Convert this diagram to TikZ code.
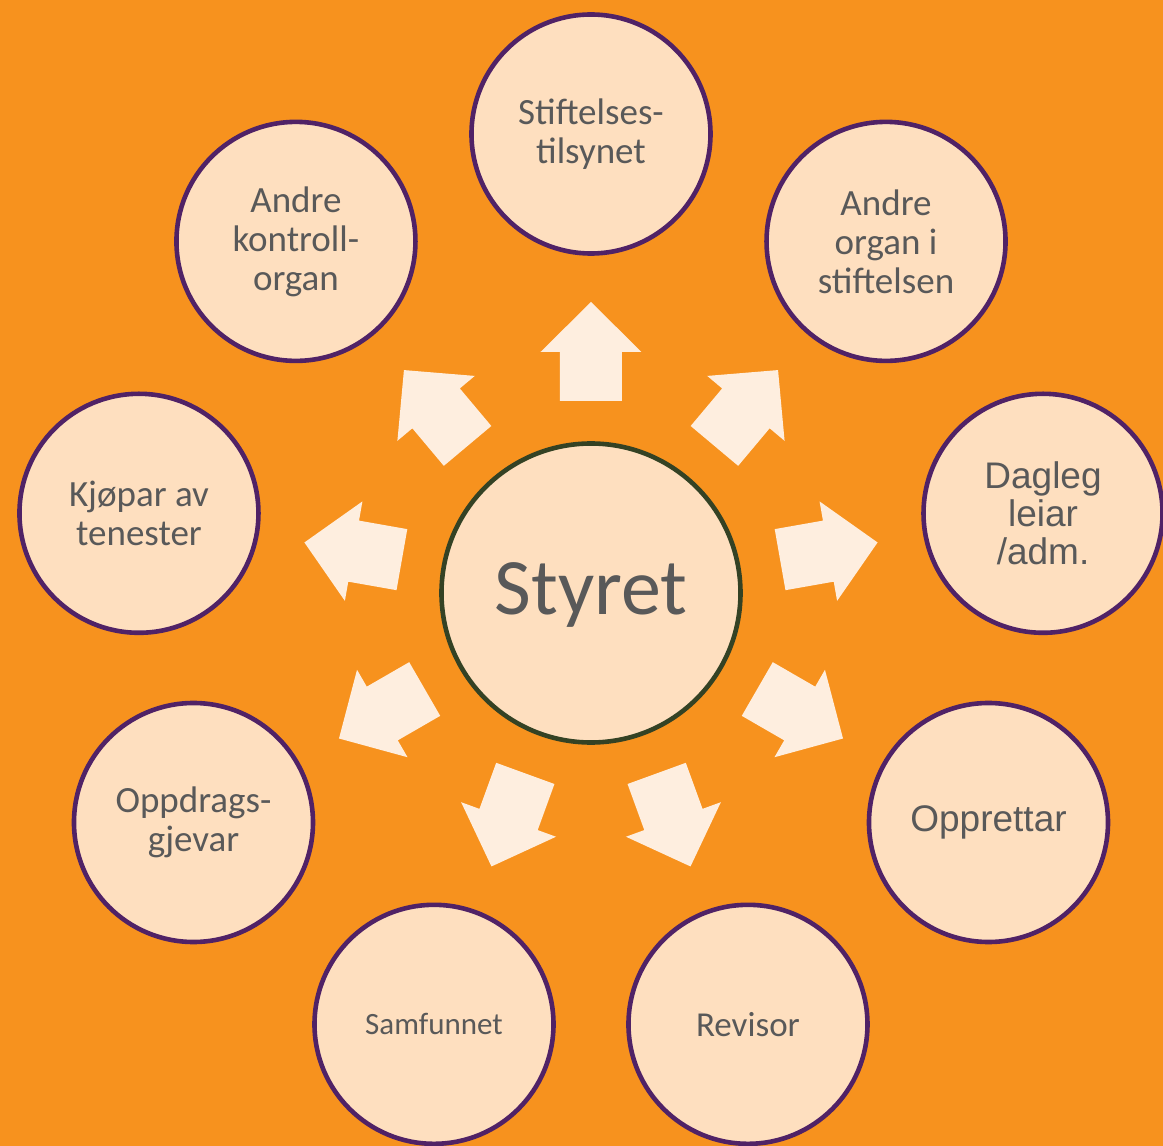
\documentclass[tikz,border=0pt]{standalone}
\usepackage{fontspec}
\setmainfont{Carlito}
\newfontfamily\arialf{Liberation Sans}
\definecolor{bgorange}{RGB}{247,146,30}
\definecolor{circfill}{RGB}{254,223,191}
\definecolor{arrowfill}{RGB}{254,238,223}
\definecolor{circpurple}{RGB}{80,34,102}
\definecolor{centergreen}{RGB}{52,66,36}
\definecolor{textgray}{RGB}{89,89,89}
\tikzset{
  outer/.style={circle, draw=circpurple, line width=4.6pt, fill=circfill,
    minimum size=239pt, inner sep=0pt, text=textgray, align=center,
    font=\fontsize{37}{39}\selectfont},
  hub/.style={circle, draw=centergreen, line width=4.6pt, fill=circfill,
    minimum size=299pt, inner sep=0pt, text=textgray,
    font=\fontsize{80}{90}\selectfont},
  blockarrow/.style={fill=arrowfill, draw=none}
}
\begin{document}
\begin{tikzpicture}[x=1pt,y=1pt]
\fill[bgorange] (-591,-553) rectangle (572,593);
\useasboundingbox (-591,-553) rectangle (572,593);
% block arrows
\foreach \a in {90,50,10,-30,-70,-110,-150,170,130}{
  \begin{scope}[rotate=\a-90]
    \fill[blockarrow] (-31,192) -- (31,192) -- (31,241) -- (50.5,241) -- (0,291)
      -- (-50.5,241) -- (-31,241) -- cycle;
  \end{scope}
}
\node[hub] (styret) at (0,0) {\raisebox{-22pt}[0pt][0pt]{Styret}};
\node[outer] (c1) at (90:459) {Stiftelses-\\tilsynet};
\node[outer] (c2) at (50:459) {Andre\\organ i\\stiftelsen};
\node[outer, font=\arialf\fontsize{37}{38}\selectfont] (c3) at (10:459) {Dagleg\\leiar\\/adm.};
\node[outer, font=\arialf\fontsize{37}{38}\selectfont] (c4) at (-30:459) {Opprettar};
\node[outer, font=\fontsize{35}{39}\selectfont] (c5) at (-70:459) {Revisor};
\node[outer, font=\fontsize{31}{36}\selectfont] (c6) at (-110:459) {Samfunnet};
\node[outer] (c7) at (-150:459) {Oppdrags-\\gjevar};
\node[outer] (c8) at (170:459) {Kjøpar av\\tenester};
\node[outer] (c9) at (130:459) {Andre\\kontroll-\\organ};
\end{tikzpicture}
\end{document}
